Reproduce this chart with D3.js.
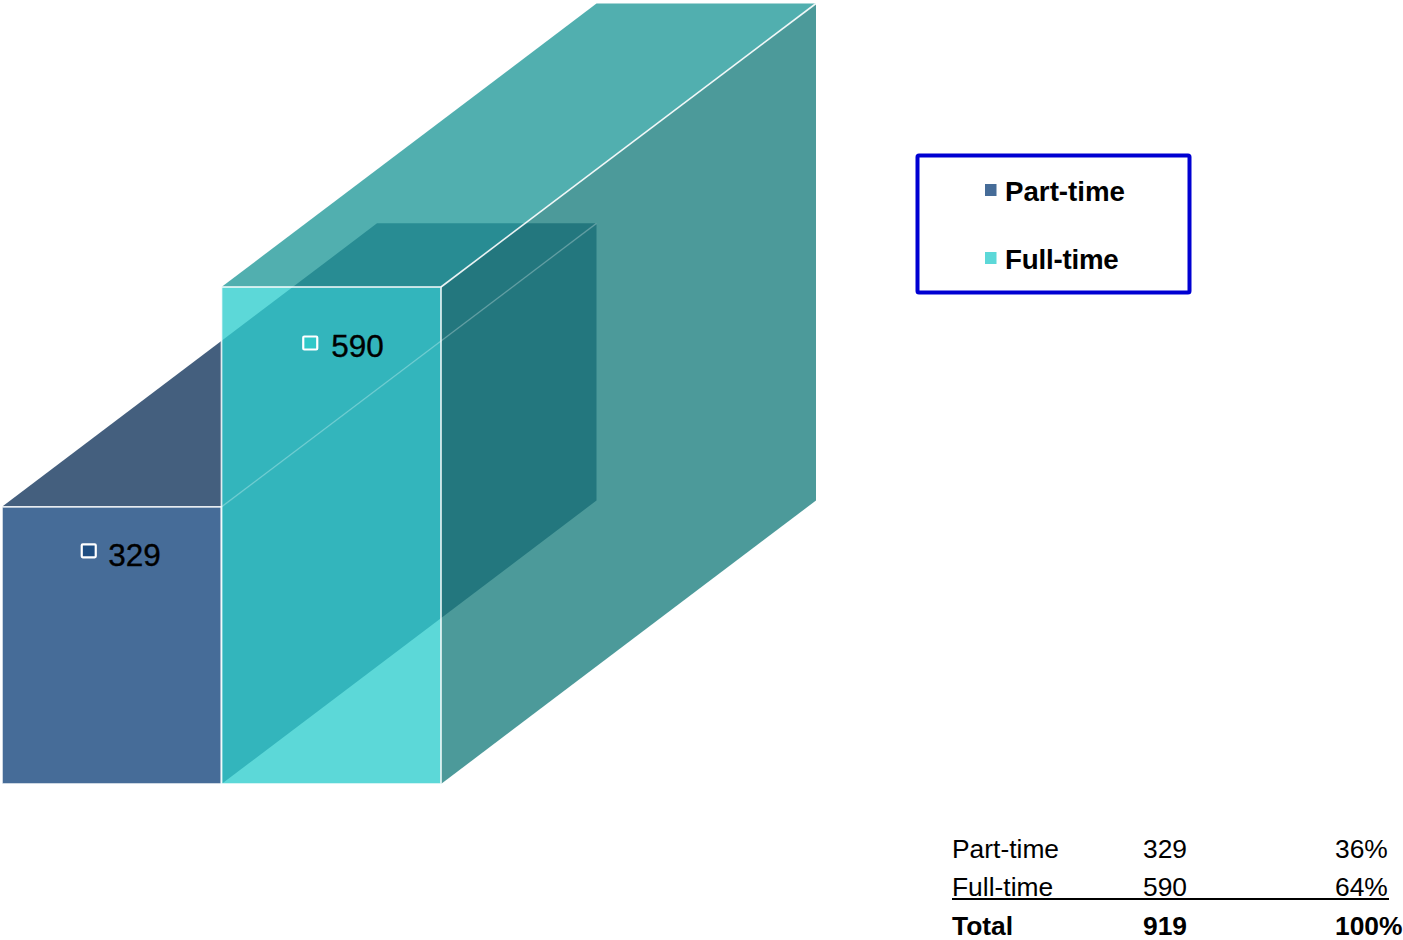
<!DOCTYPE html>
<html><head><meta charset="utf-8">
<script src="https://cdn.jsdelivr.net/npm/d3@7"></script>
<style>html,body{margin:0;padding:0;background:#fff}svg{display:block}text{font-family:"Liberation Sans",Arial,sans-serif}</style>
</head><body><svg id="c" width="1403" height="940"></svg>
<script>
const categories = ["Part-time","Full-time"];
const values = [329,590];
const shares = ["36%","64%"];
const totalLabel = "Total";
const totalValue = "919";
const totalShare = "100%";
const frontColors = ["rgb(70,108,152)","rgb(46,205,205)"];
const topColors = ["rgb(68,95,126)","rgb(32,152,152)"];
const sideColors = ["rgb(68,95,126)","rgb(26,125,125)"];
const markerColors = ["#1f4e82","#2fc8c8"];
const legendColors = ["#466c98","#5cd8d8"];
const barAlpha = [1,0.78];

const svg = d3.select("#c");
const x = d3.scaleBand().domain(categories).range([2,441]);
const y = d3.scaleLinear().domain([0,590]).range([784,287]);
const depthX = 375, depthY = -283.5;
const poly = pts => pts.map(p=>p.join(",")).join(" ");

categories.forEach((c,i)=>{
  const x0=x(c), x1=x0+x.bandwidth(), yt=y(values[i]), yb=y(0);
  const g=svg.append("g");
  g.append("polygon").attr("points",poly([[x0,yt],[x1,yt],[x1+depthX,yt+depthY],[x0+depthX,yt+depthY]]))
    .attr("fill",topColors[i]).attr("fill-opacity",barAlpha[i]);
  g.append("polygon").attr("points",poly([[x1,yt],[x1+depthX,yt+depthY],[x1+depthX,yb+depthY],[x1,yb]]))
    .attr("fill",sideColors[i]).attr("fill-opacity",barAlpha[i]);
  g.append("rect").attr("x",x0).attr("y",yt).attr("width",x1-x0).attr("height",yb-yt)
    .attr("fill",frontColors[i]).attr("fill-opacity",barAlpha[i])
    .attr("stroke","#fff").attr("stroke-opacity",0.85).attr("stroke-width",1.7);
});
// receding top-right edges, drawn over both boxes
categories.forEach((c,i)=>{
  const x1=x(c)+x.bandwidth(), yt=y(values[i]);
  svg.append("line").attr("x1",x1).attr("y1",yt).attr("x2",x1+depthX).attr("y2",yt+depthY)
    .attr("stroke","#fff").attr("stroke-opacity",i?0.9:0.25).attr("stroke-width",i?1.6:1.4);
});

const labelDX = [-23,-21], labelDY = [44,56], textDX = [-3.5,0], textDY = [59,70];
categories.forEach((c,i)=>{
  const cx=x(c)+x.bandwidth()/2, yt=y(values[i]);
  svg.append("rect").attr("x",cx+labelDX[i]-7).attr("y",yt+labelDY[i]-6.5).attr("width",14).attr("height",13)
    .attr("fill",markerColors[i]).attr("stroke","#fff").attr("stroke-width",2.2).attr("rx",1);
  svg.append("text").attr("x",cx+textDX[i]).attr("y",yt+textDY[i]).attr("font-size",31.5).attr("fill","#000")
    .attr("stroke","#000").attr("stroke-width",0.35).text(values[i]);
});

// legend
svg.append("rect").attr("x",917.5).attr("y",155.5).attr("width",272).attr("height",137)
  .attr("fill","#fff").attr("stroke","#0000d2").attr("stroke-width",4).attr("rx",1.5);
const legendY = d3.scalePoint().domain(categories).range([190,258]);
categories.forEach((c,i)=>{
  svg.append("rect").attr("x",985).attr("y",legendY(c)-6).attr("width",11.5).attr("height",12).attr("fill",legendColors[i]);
  svg.append("text").attr("x",1005).attr("y",legendY(c)+11).attr("font-size",27.7).attr("font-weight","bold")
    .attr("letter-spacing",i?-0.2:0).attr("fill","#000").text(c);
});

// table
const rows=[...categories.map((c,i)=>[c,values[i],shares[i]]),[totalLabel,totalValue,totalShare]];
const rowY = d3.scaleOrdinal().domain(rows.map(r=>r[0])).range([858,896,935]);
const cols=[952,1143,1335];
rows.forEach((r,i)=>r.forEach((t,j)=>{
  svg.append("text").attr("x",cols[j]).attr("y",rowY(r[0])).attr("font-size",26.4)
    .attr("font-weight",i==2?"bold":"normal").attr("fill","#000").text(t);
}));
svg.append("line").attr("x1",952).attr("x2",1389).attr("y1",899).attr("y2",899).attr("stroke","#000").attr("stroke-width",2);
</script></body></html>
